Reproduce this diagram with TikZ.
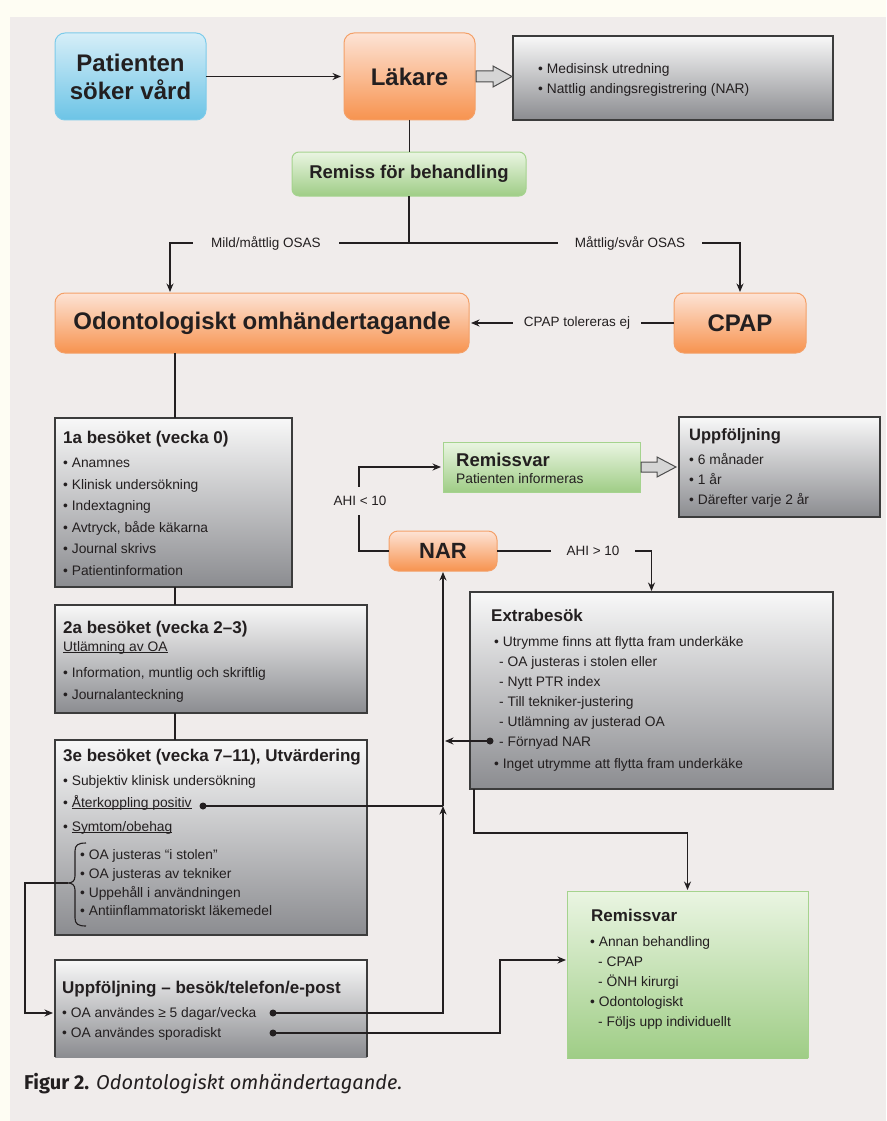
\documentclass[tikz,border=0pt]{standalone}
\usepackage{fontspec}
\setmainfont{Liberation Sans}
\newfontfamily\capfont{Fira Sans}
\usetikzlibrary{arrows.meta,calc}
\definecolor{ink}{HTML}{231F20}
\definecolor{cream}{HTML}{FEFDF3}
\definecolor{panel}{HTML}{F0ECEB}
\definecolor{btop}{HTML}{D6EEF8}
\definecolor{bbot}{HTML}{6CC4E6}
\definecolor{bline}{HTML}{7DCBEA}
\definecolor{otop}{HTML}{FDE3D5}
\definecolor{obot}{HTML}{F7934F}
\definecolor{oline}{HTML}{F4A068}
\definecolor{gtop}{HTML}{EAF5E2}
\definecolor{gbot}{HTML}{9FCD86}
\definecolor{gline}{HTML}{A5D38E}
\definecolor{ytop}{HTML}{F8F8F8}
\definecolor{ybot}{HTML}{8B8C90}
\definecolor{yline}{HTML}{3C3C3C}
\definecolor{hollowc}{HTML}{D5D5D5}
\newcommand\myul[1]{\setbox0\hbox{#1}\rlap{\rule[-2pt]{\wd0}{0.7pt}}\box0}
\tikzset{
  ln/.style={line width=1.3pt, draw=ink},
  arr/.style={ln, -{Stealth[length=8.5pt,width=7pt]}},
  bx/.style={anchor=north west, inner sep=0pt, outer sep=0pt},
  grayb/.style={bx, draw=yline, line width=1.3pt, top color=ytop, bottom color=ybot},
  orb/.style={bx, rounded corners=10pt, draw=oline, line width=1pt, top color=otop, bottom color=obot, text=ink, font=\fontsize{24}{28}\selectfont\bfseries},
  tx/.style={anchor=base west, inner sep=0pt, text=ink, font=\fontsize{13.8}{16}\selectfont},
  tt/.style={tx, font=\fontsize{17}{20}\selectfont\bfseries},
  lbl/.style={fill=panel, text=ink, font=\fontsize{13.5}{16}\selectfont, inner ysep=2pt},
  dotn/.style={circle, fill=ink, inner sep=0pt, minimum size=7pt},
  hol/.style={draw=black!70, line width=1pt, fill=hollowc, line join=miter},
}
\begin{document}
\begin{tikzpicture}[x=1pt,y=-1pt]
\useasboundingbox (0,0) rectangle (886,1121);
\fill[cream] (0,0) rectangle (886,1121);
\fill[panel] (10,17) rectangle (886,1121);

% ---------- top row
\node[bx, rounded corners=10pt, draw=bline, line width=1pt, top color=btop, bottom color=bbot,
      minimum width=151pt, minimum height=87pt, align=center, text=ink,
      font=\fontsize{24}{28}\selectfont\bfseries] (pat) at (55,33) {Patienten\\söker vård};
\node[orb, minimum width=131pt, minimum height=87pt] (lak) at (344,33) {Läkare};
\node[grayb, minimum width=320pt, minimum height=84pt] (med) at (513,36) {};
\node[tx] (m1) at (538,74) {• Medisinsk utredning};
\node[tx] (m2) at (538,94) {• Nattlig andingsregistrering (NAR)};
\draw[arr, shorten >=3pt] (pat.east |- lak.east) -- (lak.west);
\draw[hol] ([shift={(1,-5.5)}]lak.east) -- ++(17,0) -- ++(0,-5) -- ([xshift=-1pt]med.west |- lak.east)
  -- ([shift={(18,10.5)}]lak.east) -- ++(0,-5) -- ++(-17,0) -- cycle;

\node[bx, rounded corners=7pt, draw=gline, line width=1pt, top color=gtop, bottom color=gbot,
      minimum width=234pt, minimum height=44pt, text=ink,
      font=\fontsize{18.5}{22}\selectfont\bfseries] (rem) at (292,152) {Remiss för behandling};
\draw[ln] (lak.south) -- (lak.south |- rem.north);
\coordinate (split) at ([shift={(0,47)}]rem.south);
\draw[ln] (rem.south) -- (split);

\node[orb, minimum width=414pt, minimum height=60pt] (odo) at (55,293) {Odontologiskt omhändertagande};
\node[orb, minimum width=132pt, minimum height=60pt] (cpap) at (674,293) {CPAP};
\draw[arr, shorten >=1pt] (split) -| ([xshift=115pt]odo.north west);
\draw[arr, shorten >=1pt] (split) -| (cpap.north);
\node[lbl, inner xsep=18pt] (l1) at (266,243) {Mild/måttlig OSAS};
\node[lbl, inner xsep=17pt] (l2) at (630,243) {Måttlig/svår OSAS};
\draw[arr, shorten >=2pt] (cpap.west) -- (odo.east);
\node[lbl, inner xsep=11pt] (l3) at (577,323) {CPAP tolereras ej};

% ---------- left column
\node[grayb, minimum width=237pt, minimum height=169pt] (b1) at (55,418) {};
\draw[ln] ([xshift=120pt]odo.south west) -- ([xshift=120pt]b1.north west);
\node[tt] (t11) at (63,443) {1a besöket (vecka 0)};
\node[tx] (t12) at (63,467) {• Anamnes};
\node[tx] (t13) at (63,489) {• Klinisk undersökning};
\node[tx] (t14) at (63,510) {• Indextagning};
\node[tx] (t15) at (63,532) {• Avtryck, både käkarna};
\node[tx] (t16) at (63,553) {• Journal skrivs};
\node[tx] (t17) at (63,575) {• Patientinformation};

\node[grayb, minimum width=312pt, minimum height=108pt] (b2) at (55,605) {};
\draw[ln] ([xshift=120pt]b1.south west) -- ([xshift=120pt]b2.north west);
\node[tt] (t21) at (63,633) {2a besöket (vecka 2–3)};
\node[tx] (t22) at (63,651) {\myul{Utlämning av OA}};
\node[tx] (t23) at (63,677) {• Information, muntlig och skriftlig};
\node[tx] (t24) at (63,699) {• Journalanteckning};

\node[grayb, minimum width=312pt, minimum height=195pt] (b3) at (55,740) {};
\draw[ln] ([xshift=120pt]b2.south west) -- ([xshift=120pt]b3.north west);
\node[tt] (t31) at (63,761) {3e besöket (vecka 7–11), Utvärdering};
\node[tx] (t32) at (63,785) {• Subjektiv klinisk undersökning};
\node[tx] (t33) at (63,807) {• \myul{Återkoppling positiv}};
\node[tx] (t34) at (63,831) {• \myul{Symtom/obehag}};
\node[tx] (t35) at (80,859) {• OA justeras “i stolen”};
\node[tx] (t36) at (80,878) {• OA justeras av tekniker};
\node[tx] (t37) at (80,897) {• Uppehåll i användningen};
\node[tx] (t38) at (80,915) {• Antiinflammatoriskt läkemedel};
\draw[ln, line width=1.1pt] (86,843) .. controls (78,843) and (75,845) .. (75,851) -- (75,876)
  .. controls (75,881) and (72,883) .. (68,883) .. controls (72,883) and (75,885) .. (75,890)
  -- (75,918) .. controls (75,924) and (78,926) .. (86,926);
\coordinate (bt) at (68,883);

\node[bx, top color=ytop, bottom color=ybot, minimum width=312pt, minimum height=97pt] (b4) at (55,960) {};
\draw[ln, draw=yline] (b4.south west) -- (b4.north west) -- (b4.north east) -- (b4.south east);
\node[tt] (t41) at (62,993) {Uppföljning – besök/telefon/e-post};
\node[tx] (t42) at (62,1017) {• OA användes ≥ 5 dagar/vecka};
\node[tx] (t43) at (62,1037) {• OA användes sporadiskt};

% ---------- right side
\node[orb, rounded corners=9pt, minimum width=108pt, minimum height=40pt,
      font=\fontsize{22}{26}\selectfont\bfseries] (nar) at (389,531) {NAR};
\node[bx, draw=gline, line width=1pt, top color=gtop, bottom color=gbot,
      minimum width=197pt, minimum height=50pt] (rv1) at (443,442) {};
\node[tx, font=\fontsize{18.5}{22}\selectfont\bfseries] (r1) at (456,466) {Remissvar};
\node[tx] (r2) at (456,483) {Patienten informeras};

\node[grayb, minimum width=201pt, minimum height=100pt] (upp) at (679,417) {};
\node[tx, font=\fontsize{16.5}{20}\selectfont\bfseries] (u1) at (689,440) {Uppföljning};
\node[tx] (u2) at (689,464) {• 6 månader};
\node[tx] (u3) at (689,484) {• 1 år};
\node[tx] (u4) at (689,504) {• Därefter varje 2 år};
\draw[hol] ([shift={(1,-5)}]rv1.east) -- ++(16,0) -- ++(0,-5) -- ([xshift=-3pt]upp.west)
  -- ([shift={(17,10)}]rv1.east) -- ++(0,-5) -- ++(-16,0) -- cycle;

\draw[arr, shorten >=2pt] (nar.west) -- ++(-30,0) |- (rv1.west);
\node[lbl, inner xsep=2pt, inner ysep=9pt] (l4) at (360,501) {AHI < 10};

\node[grayb, minimum width=363pt, minimum height=197pt] (ext) at (470,592) {};
\draw[arr, shorten >=1pt] (nar.east) -| (ext.north);
\node[lbl, inner xsep=16pt] (l5) at (593,551) {AHI > 10};
\node[tt] (e1) at (491,621) {Extrabesök};
\node[tx] (e2) at (494,646) {• Utrymme finns att flytta fram underkäke};
\node[tx] (e3) at (499,666) {- OA justeras i stolen eller};
\node[tx] (e4) at (499,686) {- Nytt PTR index};
\node[tx] (e5) at (499,706) {- Till tekniker-justering};
\node[tx] (e6) at (499,726) {- Utlämning av justerad OA};
\node[tx] (e7) at (499,746) {- Förnyad NAR};
\node[tx] (e8) at (494,768) {• Inget utrymme att flytta fram underkäke};

\node[bx, top color=gtop, bottom color=gbot, minimum width=241pt, minimum height=167pt] (rv2) at (567,891) {};
\draw[draw=gline, line width=1pt] (rv2.south west) -- (rv2.north west) -- (rv2.north east) -- (rv2.south east);
\node[tt] (v1) at (591,921) {Remissvar};
\node[tx] (v2) at (590,946) {• Annan behandling};
\node[tx] (v3) at (598,966) {- CPAP};
\node[tx] (v4) at (598,986) {- ÖNH kirurgi};
\node[tx] (v5) at (590,1006) {• Odontologiskt};
\node[tx] (v6) at (598,1026) {- Följs upp individuellt};

% ---------- dots and connectors
\node[dotn] (d3) at (490,741) {};
\node[dotn] (d2) at (203,806) {};
\node[dotn] (d1) at (273,1013) {};
\node[dotn] (d4) at (273,1033) {};
\draw[arr, shorten >=2pt] (d3.center) -- (d3 -| nar.south);
\coordinate (j1) at (d2 -| nar.south);
\draw[arr] (d1.center) -| (j1);
\draw[ln] (d2.center) -- (j1);
\draw[arr, shorten >=1pt] (j1) -- (nar.south);
\draw[arr, shorten >=1pt] ([xshift=4pt]ext.south west) -- ++(0,44) -| (rv2.north);
\draw[arr, shorten >=1pt] (d4.center) -- ++(227,0) |- ([shift={(0,69)}]rv2.north west);
\draw[arr, shorten >=2pt] (bt) -- ++(-43,0) |- (b4.west |- d1);

% ---------- caption
\node[anchor=base west, inner sep=0pt, text=ink, font=\capfont\fontsize{20}{22}\selectfont] (cap) at (24,1089)
  {\textbf{Figur 2.} \textit{Odontologiskt omhändertagande.}};
\end{tikzpicture}
\end{document}
